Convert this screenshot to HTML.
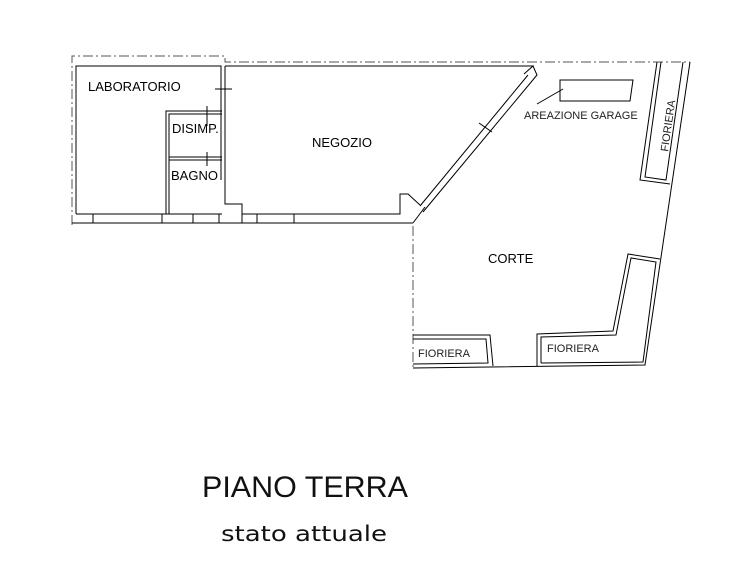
<!DOCTYPE html>
<html><head><meta charset="utf-8"><style>
html,body{margin:0;padding:0;background:#fff;width:749px;height:583px;overflow:hidden}
svg{display:block}
</style></head><body>
<svg width="749" height="583" viewBox="0 0 749 583" xmlns="http://www.w3.org/2000/svg" font-family="Liberation Sans, sans-serif">
<g fill="none" stroke="#000" stroke-width="1">
<g stroke="#555" stroke-dasharray="10,3,2,3">
<path d="M72,225 V56 H225 V62 H690"/>
<path d="M413,226 V368"/>
</g>
<path d="M76,214 V66 H221 V180"/>
<path d="M72,223 H413"/>
<path d="M76,214 H222"/>
<path d="M93,214 V223 M162,214 V223 M193,214 V223 M219,214 V223"/>
<path d="M166,214 V111 H222 M169,214 V114 H222"/>
<path d="M169,157 H222 M169,160 H222"/>
<path d="M207,106 V126 M207,152 V166 M215,89 H232"/>
<path d="M225,66 V204 H242 V214 H400 V194 H408 L420,205"/>
<path d="M225,66 H533 L524,74 M533,66 L537,75 L423,212 M528,75 L420,206"/>
<path d="M479,123 L492,132"/>
<path d="M242,214 V223 M257,214 V223 M294,214 V223"/>
<path d="M413,223 L425,207"/>
<path d="M690,62 L645,365 L413,368"/>
<path d="M657,62 L640,180 L670,184 M661,62 L645,177 L666,180 L683,62"/>
<path d="M560,80 H633 L630,101 H560 Z M537,104 L563,89"/>
<path d="M413,335 L490,335 L493,366 M413,339 L486,339 L488,363 L413,364"/>
<path d="M537,366 V334 L613,331 L628,254 L660,259 M541,363 V337 L616,335 L631,258 L656,262 L643,362 L541,363"/>
</g>
<g font-size="13" fill="#000">
<text x="88" y="91">LABORATORIO</text>
<text x="172" y="133">DISIMP.</text>
<text x="171" y="180">BAGNO</text>
<text x="312" y="147">NEGOZIO</text>
<text x="488" y="263">CORTE</text>
</g>
<g font-size="11" fill="#222">
<text x="524" y="119">AREAZIONE GARAGE</text>
<text x="418" y="357">FIORIERA</text>
<text x="547" y="352">FIORIERA</text>
<text transform="translate(668,152) rotate(-82)">FIORIERA</text>
</g>
<text x="202" y="497" font-size="30" fill="#111" textLength="206" lengthAdjust="spacingAndGlyphs">PIANO TERRA</text>
<text x="221" y="541" font-size="21" font-family="DejaVu Sans, sans-serif" fill="#111" textLength="166" lengthAdjust="spacingAndGlyphs">stato attuale</text>
</svg>
</body></html>
